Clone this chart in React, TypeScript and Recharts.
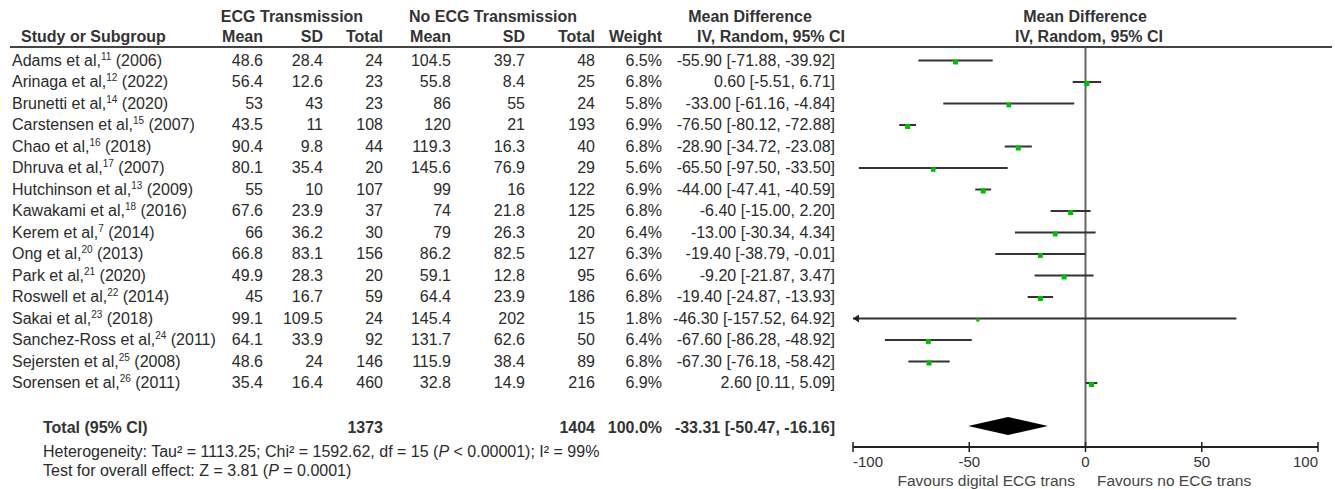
import React from "react"
import {
  ComposedChart,
  ErrorBar,
  ReferenceArea,
  ReferenceLine,
  Scatter,
  XAxis,
  YAxis,
} from "recharts"

const W = 1335
const H = 489
const FONT = '"Liberation Sans", Arial, sans-serif'

// study table
const authors = [
  "Adams et al,",
  "Arinaga et al,",
  "Brunetti et al,",
  "Carstensen et al,",
  "Chao et al,",
  "Dhruva et al,",
  "Hutchinson et al,",
  "Kawakami et al,",
  "Kerem et al,",
  "Ong et al,",
  "Park et al,",
  "Roswell et al,",
  "Sakai et al,",
  "Sanchez-Ross et al,",
  "Sejersten et al,",
  "Sorensen et al,",
]
const refs = ["11", "12", "14", "15", "16", "17", "13", "18", "7", "20", "21", "22", "23", "24", "25", "26"]
const years = [2006, 2022, 2020, 2007, 2018, 2007, 2009, 2016, 2014, 2013, 2020, 2014, 2018, 2011, 2008, 2011]

const ecgMean = [48.6, 56.4, 53, 43.5, 90.4, 80.1, 55, 67.6, 66, 66.8, 49.9, 45, 99.1, 64.1, 48.6, 35.4]
const ecgSd = [28.4, 12.6, 43, 11, 9.8, 35.4, 10, 23.9, 36.2, 83.1, 28.3, 16.7, 109.5, 33.9, 24, 16.4]
const ecgTotal = [24, 23, 23, 108, 44, 20, 107, 37, 30, 156, 20, 59, 24, 92, 146, 460]
const noMean = [104.5, 55.8, 86, 120, 119.3, 145.6, 99, 74, 79, 86.2, 59.1, 64.4, 145.4, 131.7, 115.9, 32.8]
const noSd = [39.7, 8.4, 55, 21, 16.3, 76.9, 16, 21.8, 26.3, 82.5, 12.8, 23.9, 202, 62.6, 38.4, 14.9]
const noTotal = [48, 25, 24, 193, 40, 29, 122, 125, 20, 127, 95, 186, 15, 50, 89, 216]
const weights = [6.5, 6.8, 5.8, 6.9, 6.8, 5.6, 6.9, 6.8, 6.4, 6.3, 6.6, 6.8, 1.8, 6.4, 6.8, 6.9]
const meanDiff = [-55.9, 0.6, -33.0, -76.5, -28.9, -65.5, -44.0, -6.4, -13.0, -19.4, -9.2, -19.4, -46.3, -67.6, -67.3, 2.6]
const ciLow = [-71.88, -5.51, -61.16, -80.12, -34.72, -97.5, -47.41, -15.0, -30.34, -38.79, -21.87, -24.87, -157.52, -86.28, -76.18, 0.11]
const ciHigh = [-39.92, 6.71, -4.84, -72.88, -23.08, -33.5, -40.59, 2.2, 4.34, -0.01, 3.47, -13.93, 64.92, -48.92, -58.42, 5.09]

// pooled result
const totalEcg = 1373
const totalNo = 1404
const totalWeight = "100.0%"
const pooledMd = -33.31
const pooledLow = -50.47
const pooledHigh = -16.16

const xTicks = [-100, -50, 0, 50, 100]
const X_MIN = -100
const X_MAX = 100

// layout: row i sits at ROW0 + i * ROW_H px
const ROW0 = 60.5
const ROW_H = 21.5
const PLOT_TOP = 47
const PLOT_BOTTOM = 447
const TOTAL_ROW = 17
const rowY = (i: number) => ROW0 + i * ROW_H
const Y_MIN = (PLOT_TOP - ROW0) / ROW_H
const Y_MAX = (PLOT_BOTTOM - ROW0) / ROW_H

const points = meanDiff.map((md, i) => ({
  md,
  row: i,
  weight: weights[i],
  err: [md - Math.max(ciLow[i], X_MIN), Math.min(ciHigh[i], X_MAX) - md],
}))
const clippedLeft = points.filter((p, i) => ciLow[i] < X_MIN).map((p) => ({ md: X_MIN, row: p.row }))

const Square = (props: any) => {
  const { cx, cy, payload } = props
  const s = 2.5 + 0.37 * payload.weight
  return <rect x={cx - s / 2} y={cy + 1.5 - s / 2} width={s} height={s} fill="#00bf00" />
}

const Arrow = (props: any) => {
  const { cx, cy } = props
  return <polygon points={`${cx},${cy} ${cx + 6},${cy - 4} ${cx + 6},${cy + 4}`} fill="#222" />
}

const Diamond = (props: any) => {
  const { x, y, width, height } = props
  const pts = [
    [x, y + height / 2],
    [x + width / 2, y],
    [x + width, y + height / 2],
    [x + width / 2, y + height],
  ]
  return <polygon points={pts.map((p) => p.join(",")).join(" ")} fill="#000" />
}

const AxisTick = (props: any) => {
  const { x, y, payload, index } = props
  const anchor = index === 0 ? "start" : index === xTicks.length - 1 ? "end" : "middle"
  return (
    <g>
      <line x1={x} x2={x} y1={y - 5} y2={y + 5} stroke="#222" strokeWidth={1.5} />
      <text x={x} y={y + 20} textAnchor={anchor} fontSize={15} fill="#333" fontFamily={FONT}>
        {payload.value}
      </text>
    </g>
  )
}

interface CellProps {
  x: number
  y: number
  align?: "left" | "right" | "center"
  bold?: boolean
  size?: number
  color?: string
  children: React.ReactNode
}

function Cell({ x, y, align = "right", bold, size = 16, color = "#2b2b2b", children }: CellProps) {
  const shift = align === "right" ? "-100%" : align === "center" ? "-50%" : "0"
  return (
    <div
      style={{
        position: "absolute",
        left: x,
        top: y - 10,
        height: 20,
        lineHeight: "20px",
        fontSize: size,
        fontWeight: bold ? 700 : 400,
        color,
        whiteSpace: "nowrap",
        transform: `translateX(${shift})`,
      }}
    >
      {children}
    </div>
  )
}

const Sup = ({ children }: { children: React.ReactNode }) => (
  <span style={{ fontSize: 10, position: "relative", top: -6 }}>{children}</span>
)

const cols = {
  ecgMean: 263,
  ecgSd: 323,
  ecgTotal: 383,
  noMean: 451,
  noSd: 525,
  noTotal: 595,
  weight: 662,
  ci: 835,
}

const fmt = (v: number) => v.toFixed(2)

export default function App() {
  const head = "#333"
  return (
    <div
      style={{
        position: "absolute",
        left: 0,
        top: 0,
        width: W,
        height: H,
        background: "#fff",
        fontFamily: FONT,
        overflow: "hidden",
      }}
    >
      <ComposedChart
        width={W}
        height={H}
        margin={{ top: PLOT_TOP, right: W - 1318, bottom: H - PLOT_BOTTOM - 30, left: 853 }}
        style={{ position: "absolute", left: 0, top: 0 }}
      >
        <XAxis
          type="number"
          dataKey="md"
          domain={[X_MIN, X_MAX]}
          ticks={xTicks}
          interval={0}
          allowDataOverflow
          height={30}
          tickLine={false}
          tickSize={0}
          tickMargin={0}
          tick={<AxisTick />}
          axisLine={{ stroke: "#222", strokeWidth: 2 }}
        />
        <YAxis type="number" dataKey="row" domain={[Y_MIN, Y_MAX]} reversed hide allowDataOverflow />
        <ReferenceLine x={0} stroke="#666" strokeWidth={2} />
        <ReferenceArea
          x1={pooledLow}
          x2={pooledHigh}
          y1={TOTAL_ROW - 0.42}
          y2={TOTAL_ROW + 0.42}
          shape={<Diamond />}
        />
        <Scatter data={points} shape={<Square />} isAnimationActive={false}>
          <ErrorBar dataKey="err" direction="x" width={0} stroke="#333" strokeWidth={2} isAnimationActive={false} />
        </Scatter>
        <Scatter data={clippedLeft} shape={<Arrow />} isAnimationActive={false} />
      </ComposedChart>

      {/* header line */}
      <div style={{ position: "absolute", left: 10, top: 45.5, width: 1322, height: 2, background: "#444" }} />

      {/* headers */}
      <Cell x={292} y={17} align="center" bold color={head}>ECG Transmission</Cell>
      <Cell x={493} y={17} align="center" bold color={head}>No ECG Transmission</Cell>
      <Cell x={750} y={17} align="center" bold color={head}>Mean Difference</Cell>
      <Cell x={1085} y={17} align="center" bold color={head}>Mean Difference</Cell>
      <Cell x={21} y={37} align="left" bold color={head}>Study or Subgroup</Cell>
      <Cell x={cols.ecgMean} y={37} bold color={head}>Mean</Cell>
      <Cell x={cols.ecgSd} y={37} bold color={head}>SD</Cell>
      <Cell x={cols.ecgTotal} y={37} bold color={head}>Total</Cell>
      <Cell x={cols.noMean} y={37} bold color={head}>Mean</Cell>
      <Cell x={cols.noSd} y={37} bold color={head}>SD</Cell>
      <Cell x={cols.noTotal} y={37} bold color={head}>Total</Cell>
      <Cell x={cols.weight} y={37} bold color={head}>Weight</Cell>
      <Cell x={845} y={37} bold color={head}>IV, Random, 95% CI</Cell>
      <Cell x={1089} y={37} align="center" bold color={head}>IV, Random, 95% CI</Cell>

      {/* study rows */}
      {authors.map((a, i) => {
        const y = rowY(i)
        return (
          <React.Fragment key={a}>
            <Cell x={12} y={y} align="left">
              {a}
              <Sup>{refs[i]}</Sup> ({years[i]})
            </Cell>
            <Cell x={cols.ecgMean} y={y}>{String(ecgMean[i])}</Cell>
            <Cell x={cols.ecgSd} y={y}>{String(ecgSd[i])}</Cell>
            <Cell x={cols.ecgTotal} y={y}>{String(ecgTotal[i])}</Cell>
            <Cell x={cols.noMean} y={y}>{String(noMean[i])}</Cell>
            <Cell x={cols.noSd} y={y}>{String(noSd[i])}</Cell>
            <Cell x={cols.noTotal} y={y}>{String(noTotal[i])}</Cell>
            <Cell x={cols.weight} y={y}>{weights[i].toFixed(1)}%</Cell>
            <Cell x={cols.ci} y={y}>
              {fmt(meanDiff[i])} [{fmt(ciLow[i])}, {fmt(ciHigh[i])}]
            </Cell>
          </React.Fragment>
        )
      })}

      {/* total */}
      <Cell x={43} y={428} align="left" bold color={head}>Total (95% CI)</Cell>
      <Cell x={cols.ecgTotal} y={428} bold color={head}>{String(totalEcg)}</Cell>
      <Cell x={cols.noTotal} y={428} bold color={head}>{String(totalNo)}</Cell>
      <Cell x={cols.weight} y={428} bold color={head}>{totalWeight}</Cell>
      <Cell x={cols.ci} y={428} bold color={head}>
        {fmt(pooledMd)} [{fmt(pooledLow)}, {fmt(pooledHigh)}]
      </Cell>
      <Cell x={43} y={452} align="left">
        Heterogeneity: Tau² = 1113.25; Chi² = 1592.62, df = 15 (<i>P</i> &lt; 0.00001); I² = 99%
      </Cell>
      <Cell x={43} y={471} align="left">
        Test for overall effect: Z = 3.81 (<i>P</i> = 0.0001)
      </Cell>

      {/* favours labels */}
      <Cell x={1075} y={481} size={15.5} color="#444">Favours digital ECG trans</Cell>
      <Cell x={1097} y={481} align="left" size={15.5} color="#444">Favours no ECG trans</Cell>
    </div>
  )
}
